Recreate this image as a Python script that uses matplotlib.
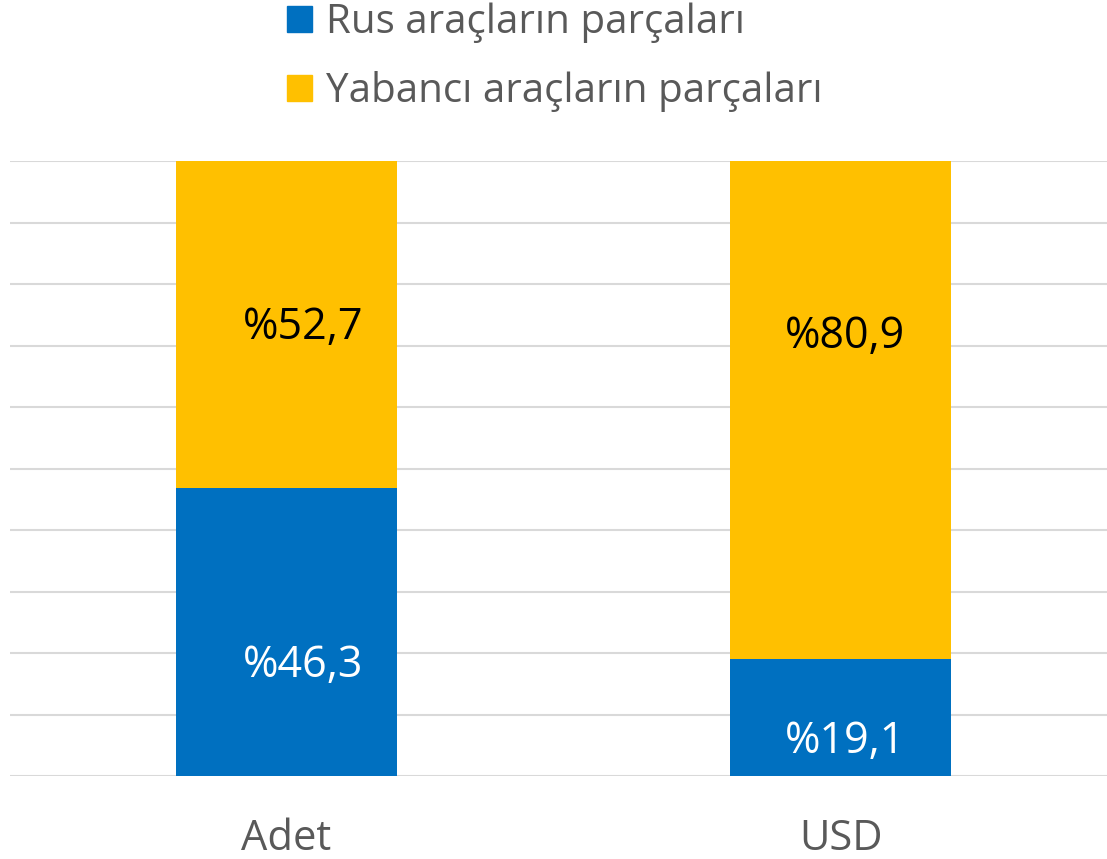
import numpy as np
import matplotlib.pyplot as plt
from matplotlib.patches import Patch

# categories and shares (%)
categories = ['Adet', 'USD']
rus = [46.3, 19.1]
yabanci = [52.7, 80.9]
series_names = ['Rus araçların parçaları', 'Yabancı araçların parçaları']
rus_labels = ['%46,3', '%19,1']
yab_labels = ['%52,7', '%80,9']

# label placement (axis units) - labels were placed by hand in the original
rus_label_y = [17.9, 5.5]
yab_label_y = [72.9, 71.4]
label_dx = [0.03, 0.008]

plt.rcParams['font.family'] = ['Open Sans', 'DejaVu Sans']

blue = '#0070C0'
yellow = '#FFC000'

# 100% stacked: normalize each column
tot = np.array(rus) + np.array(yabanci)
rus_pct = np.array(rus) / tot * 100
yab_pct = np.array(yabanci) / tot * 100

fig = plt.figure(figsize=(11.07, 8.59), dpi=100)
ax = fig.add_axes([9.5/1107, 83/859, 1108/1107, 615/859])

x = np.arange(len(categories))
ax.bar(x, rus_pct, width=0.4, color=blue, zorder=2)
ax.bar(x, yab_pct, width=0.4, bottom=rus_pct, color=yellow, zorder=2)

for i in range(len(categories)):
    ax.text(x[i] + label_dx[i], rus_label_y[i], rus_labels[i], ha='center', va='center',
            color='white', fontsize=31, zorder=3)
    ax.text(x[i] + label_dx[i], yab_label_y[i], yab_labels[i], ha='center', va='center',
            color='black', fontsize=31, zorder=3)

ax.set_xlim(-0.5, 1.5)
ax.set_ylim(0, 100)
ax.set_yticks(np.arange(0, 101, 10))
ax.yaxis.grid(True, color='#d9d9d9', linewidth=1.5, zorder=0)
ax.set_yticklabels([])
ax.tick_params(axis='y', length=0)
ax.set_xticks(x)
ax.set_xticklabels(categories, fontsize=30, color='#595959')
ax.tick_params(axis='x', length=0, pad=30)
for s in ax.spines.values():
    s.set_visible(False)

handles = [Patch(color=blue), Patch(color=yellow)]
fig.legend(handles, series_names, loc='upper left', bbox_to_anchor=(287/1107, 0.997),
           frameon=False, fontsize=29, labelcolor='#595959', borderpad=0, borderaxespad=0,
           handlelength=0.62, handleheight=0.62, handletextpad=0.35, labelspacing=0.7)

fig.savefig('out.png', dpi=100)
